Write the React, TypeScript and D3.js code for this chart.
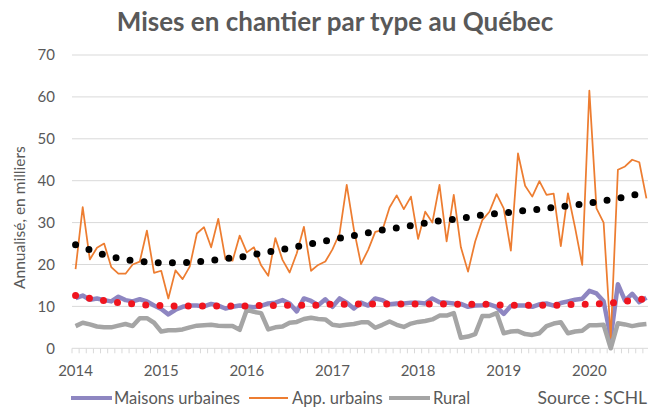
import React from 'react';
import * as d3 from 'd3';

// Mises en chantier mensuelles (annualisées, milliers), janv. 2014 à sept. 2020
const maisonsUrbaines = [
  12.0, 12.6, 11.6, 11.9, 11.5, 11.2, 12.3, 11.5, 11.2, 11.7, 11.2, 10.2,
  9.4, 8.1, 9.2, 9.9, 10.2, 10.2, 10.0, 10.6, 10.2, 9.5, 9.9, 10.2,
  10.0, 9.8, 10.1, 10.7, 10.9, 11.5, 10.7, 8.8, 11.9, 11.3, 10.3, 11.7,
  9.9, 11.9, 10.9, 9.5, 10.9, 10.2, 11.9, 11.5, 10.5, 10.7, 10.7, 10.9,
  10.9, 10.7, 11.9, 11.0, 10.9, 10.7, 10.6, 9.9, 10.2, 10.3, 10.5, 9.9,
  8.2, 10.1, 10.2, 10.2, 9.9, 10.5, 10.7, 10.2, 10.8, 11.2, 11.6, 11.8,
  13.7, 13.1, 11.2, 2.5, 15.3, 11.4, 13.0, 11.0, 12.1
];

const appUrbains = [
  18.9, 33.7, 21.2, 24.0, 25.0, 19.4, 17.8, 17.8, 20.0, 20.7, 28.1, 18.0,
  18.5, 11.9, 18.6, 16.5, 19.5, 27.4, 28.9, 24.1, 30.9, 21.3, 20.9, 26.9,
  22.9, 24.1, 19.8, 17.3, 26.3, 21.1, 18.1, 22.7, 29.0, 18.5, 19.9, 20.7,
  23.6, 27.4, 39.0, 28.4, 20.1, 23.5, 27.8, 28.2, 33.6, 36.5, 33.2, 36.2,
  26.1, 32.6, 30.0, 39.0, 25.5, 36.6, 24.1, 18.3, 25.5, 30.6, 32.6, 36.8,
  33.4, 23.3, 46.5, 38.8, 36.2, 39.9, 36.6, 36.9, 24.4, 37.0, 28.8, 19.9,
  61.5, 33.4, 30.0, 2.5, 42.6, 43.4, 45.0, 44.4, 35.8
];

const rural = [
  5.3, 6.1, 5.7, 5.2, 5.0, 5.0, 5.4, 5.8, 5.3, 7.2, 7.2, 6.1,
  4.0, 4.3, 4.3, 4.5, 5.0, 5.4, 5.5, 5.6, 5.4, 5.3, 5.3, 4.4,
  9.2, 8.7, 8.4, 4.5, 5.0, 5.2, 6.1, 6.3, 7.0, 7.3, 7.0, 6.9,
  5.6, 5.4, 5.6, 5.8, 6.2, 6.2, 4.9, 5.6, 6.4, 5.6, 5.1, 5.9,
  6.3, 6.5, 6.9, 7.8, 7.8, 8.4, 2.5, 2.8, 3.4, 7.7, 7.7, 8.4,
  3.6, 4.0, 4.1, 3.4, 3.2, 3.6, 5.3, 5.9, 6.2, 3.6, 4.0, 4.2,
  5.5, 5.5, 5.6, 0.0, 6.0, 5.7, 5.3, 5.6, 5.8
];

// Courbes de tendance (un point tous les deux mois)
const tendanceApp = [
  24.7, 23.5, 22.3, 21.5, 20.9, 20.6, 20.4, 20.4, 20.5, 20.8,
  21.2, 21.6, 22.0, 22.7, 23.3, 23.9, 24.6, 25.3, 25.9, 26.6,
  27.2, 27.9, 28.5, 29.0, 29.6, 30.2, 30.6, 31.0, 31.6, 32.0,
  32.3, 32.7, 33.0, 33.4, 33.8, 34.2, 34.7, 35.2, 35.8, 36.5, 37.2
];

const tendanceMaisons = [
  12.6, 11.9, 11.4, 10.9, 10.6, 10.3, 10.2, 10.1, 10.1, 10.1,
  10.1, 10.1, 10.1, 10.2, 10.2, 10.3, 10.3, 10.3, 10.5, 10.5,
  10.6, 10.6, 10.6, 10.6, 10.6, 10.6, 10.6, 10.5, 10.5, 10.5,
  10.3, 10.3, 10.3, 10.3, 10.3, 10.5, 10.5, 10.7, 11.0, 11.4, 11.9
];

const yTicks = [0, 10, 20, 30, 40, 50, 60, 70];

const months = d3.timeMonths(new Date(2014, 0, 1), new Date(2020, 9, 1));

const FONT = 'Lato, "Open Sans", sans-serif';
const TEXT = '#595959';
const GRID = '#d9d9d9';

const W = 649;
const H = 408;
const plot = { left: 72, right: 650, top: 55, bottom: 348.3 };

const App = () => {
  const x = d3.scaleBand<number>()
    .domain(d3.range(months.length))
    .range([plot.left, plot.right])
    .padding(0);
  const cx = (i: number) => (x(i) as number) + x.bandwidth() / 2;

  const y = d3.scaleLinear().domain([0, 70]).range([plot.bottom, plot.top]);

  const line = d3.line<number>()
    .x((d, i) => cx(i))
    .y(d => y(d));

  const trend = d3.line<number>()
    .x((d, i) => cx(i * 2))
    .y(d => y(d))
    .curve(d3.curveMonotoneX);

  const boundaries = d3.range(months.length + 1).map(i =>
    i < months.length ? (x(i) as number) : plot.right
  );

  const years = months
    .map((m, i) => ({ m, i }))
    .filter(d => d.m.getMonth() === 0);

  const dots = `0 ${x.bandwidth() * 1.987}`;

  return (
    <svg
      width={W}
      height={H}
      style={{ position: 'fixed', left: 0, top: 0, background: '#fff' }}
      fontFamily={FONT}
    >
      <text x={335} y={31} textAnchor="middle" fontSize={26} fontWeight="bold" fill={TEXT}>
        Mises en chantier par type au Québec
      </text>

      {/* grille */}
      {yTicks.map(t => (
        <g key={t}>
          <line x1={plot.left} x2={plot.right - 2} y1={y(t)} y2={y(t)} stroke={GRID} strokeWidth={1} />
          <text x={55} y={y(t)} dy="0.35em" textAnchor="end" fontSize={15} fill={TEXT}>{t}</text>
        </g>
      ))}
      {boundaries.map((bx, i) => (
        <line key={i} x1={bx} x2={bx} y1={plot.bottom} y2={plot.bottom + 5} stroke={GRID} strokeWidth={1} />
      ))}
      {years.map(d => (
        <text key={d.i} x={cx(d.i)} y={371} dy="0.35em" textAnchor="middle" fontSize={15} fill={TEXT}>
          {d.m.getFullYear()}
        </text>
      ))}
      <text
        transform={`translate(20,${(plot.top + plot.bottom) / 2 + 16}) rotate(-90)`}
        textAnchor="middle"
        dy="0.35em"
        fontSize={15.5}
        fill={TEXT}
      >
        Annualisé, en milliers
      </text>

      {/* séries */}
      <path d={line(maisonsUrbaines) || ''} fill="none" stroke="#8e86c1" strokeWidth={4.5} strokeLinejoin="round" />
      <path d={line(appUrbains) || ''} fill="none" stroke="#ed7d31" strokeWidth={1.75} strokeLinejoin="round" />
      <path d={line(rural) || ''} fill="none" stroke="#a5a5a5" strokeWidth={4.5} strokeLinejoin="round" />

      {/* tendances */}
      <path d={trend(tendanceApp) || ''} fill="none" stroke="#000" strokeWidth={7} strokeLinecap="round" strokeDasharray={dots} />
      <path d={trend(tendanceMaisons) || ''} fill="none" stroke="#f0141e" strokeWidth={7} strokeLinecap="round" strokeDasharray={dots} />

      {/* légende */}
      <g fontSize={16.5} fill={TEXT}>
        <line x1={71} x2={112} y1={398} y2={398} stroke="#8e86c1" strokeWidth={4} />
        <text x={114} y={398} dy="0.35em">Maisons urbaines</text>
        <line x1={249} x2={288} y1={398} y2={398} stroke="#ed7d31" strokeWidth={2} />
        <text x={292} y={398} dy="0.35em">App. urbains</text>
        <line x1={389} x2={430} y1={398} y2={398} stroke="#a5a5a5" strokeWidth={4} />
        <text x={433} y={398} dy="0.35em">Rural</text>
        <text x={647} y={398} dy="0.35em" textAnchor="end" fontSize={17.5}>Source : SCHL</text>
      </g>
    </svg>
  );
};

export default App;
